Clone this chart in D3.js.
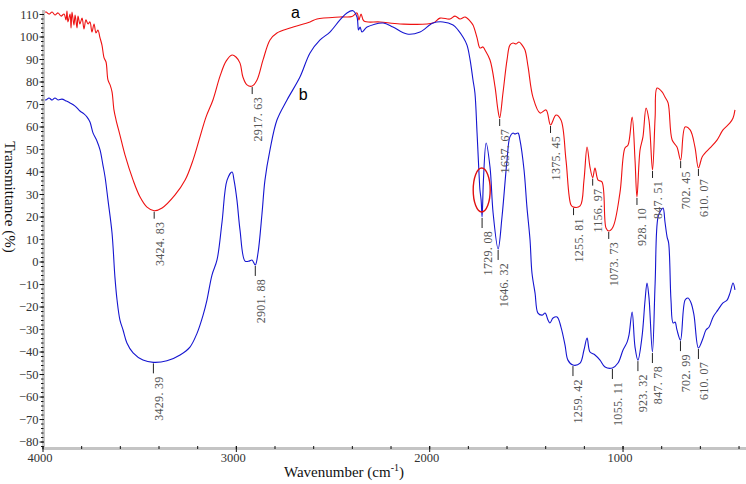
<!DOCTYPE html>
<html>
<head>
<meta charset="utf-8">
<script src="https://cdn.jsdelivr.net/npm/d3@7"></script>
<style>
html,body{margin:0;padding:0;background:#fff;}
svg{display:block;}
</style>
</head>
<body>
<svg id="chart" width="746" height="484"></svg>
<script>
// ---- data (wavenumber cm-1, transmittance %) ----
const curveA = [
[4000,110.7],[3984,111.1],[3969,110.2],[3953,111.1],[3938,109.8],[3922,110.7],[3907,109.3],[3891,110.2],
[3881,107.6],[3876,111.5],[3871,106.7],[3860,110.2],[3855,104],[3850,111.1],[3840,105.3],[3834,109.8],
[3824,104],[3819,109.3],[3809,105.8],[3798,108.4],[3788,103.6],[3778,107.6],[3767,105.8],[3757,106.7],
[3747,102.2],[3736,105.8],[3726,101.8],[3716,103.1],[3705,99.6],[3695,96.4],[3684,90.7],[3674,88.9],
[3664,80.9],[3653,78.7],[3643,75.6],[3633,67.6],[3622,63.1],[3602,56.4],[3576,47.6],[3534,36.4],
[3498,28.9],[3462,24.4],[3425,22.8],[3384,24],[3317,29.8],[3265,36.4],[3224,45.3],[3188,55.6],
[3157,64.4],[3121,72],[3084,82.7],[3053,89.3],[3022,92],[3002,91.1],[2981,88.4],[2966,82.2],
[2945,78.7],[2918,78.2],[2893,80.9],[2862,89.8],[2826,98.7],[2790,101.8],[2722,104],[2619,106.7],
[2583,108],[2464,108.9],[2402,109.1],[2376,110.7],[2366,107.6],[2355,110.2],[2340,107.1],[2257,106.7],
[2153,105.8],[1983,106.2],[1947,108.4],[1895,108],[1869,109.3],[1843,108],[1817,108.9],[1791,107.1],
[1776,105.3],[1755,99.6],[1740,95.1],[1724,95.6],[1714,94.2],[1688,89.8],[1662,77.8],[1647,67.6],
[1638,64],[1621,75.1],[1600,89.8],[1585,96.4],[1569,97.3],[1553,96.9],[1538,97.8],[1522,96.4],
[1507,94.2],[1491,86.7],[1466,73.3],[1429,66.2],[1398,67.6],[1375,60.9],[1347,65.3],[1321,63.1],
[1295,45.3],[1269,25.3],[1256,24.4],[1222,24.9],[1202,36.4],[1186,51.1],[1171,42.2],[1157,37.5],
[1145,41.8],[1129,36.4],[1109,35.6],[1088,15.1],[1074,13.8],[1052,15.6],[1016,30.7],[990,50.7],
[974,52],[953,64.4],[938,45.3],[928,28.9],[912,49.8],[897,55.6],[881,68.4],[866,63.1],
[847.5,40.9],[834,64.4],[824,77.3],[798,75.6],[783,73.3],[767,70.7],[746,54.2],[721,51.1],
[702,45.3],[679,60],[653,58.7],[628,51.1],[610,41.8],[591,46.7],[576,48.4],[550,50.7],
[514,54.2],[483,58.7],[447,61.8],[431,64],[421,67.6]
];
const curveB = [
[4000,72.4],[3984,72],[3969,72.9],[3953,72],[3938,72.9],[3922,72],[3902,72.4],[3881,71.6],
[3860,70.7],[3834,69.3],[3809,67.1],[3788,65.8],[3772,64.4],[3757,62.2],[3741,57.3],[3721,53.8],
[3705,49.8],[3690,43.1],[3679,37.8],[3664,27.6],[3643,12.9],[3628,-6.7],[3617,-16.9],[3602,-25.8],
[3586,-30.2],[3566,-36],[3534,-40.4],[3483,-43.6],[3429,-44.6],[3359,-43.9],[3291,-41.3],[3240,-37.8],
[3203,-31.6],[3172,-23.6],[3152,-16.9],[3126,-5.8],[3100,0.9],[3074,17.8],[3048,36.4],[3022,40],
[3012,36.4],[2997,27.6],[2981,14.2],[2955,0.4],[2934,0.4],[2919,0.9],[2902,-1.3],[2888,4],
[2867,21.8],[2852,36.4],[2826,49.8],[2790,63.1],[2738,72],[2671,82.2],[2619,92.9],[2567,98.7],
[2516,102.2],[2464,107.6],[2428,110.7],[2397,111.7],[2376,108.9],[2368,103.1],[2360,104.4],[2350,102.2],
[2324,104.4],[2241,106.2],[2190,104.4],[2117,101.3],[2050,102.2],[1983,106.2],[1931,106.7],[1879,105.3],
[1853,103.1],[1828,100],[1807,96.4],[1791,89.8],[1776,80.9],[1766,75.1],[1755,57.3],[1745,39.6],
[1740,32],[1734,27.6],[1729,20],[1722,36.4],[1708,52.9],[1688,42.2],[1672,21.8],[1646,5.8],
[1626,20],[1600,45.3],[1585,55.6],[1569,57.3],[1559,56.9],[1543,57.3],[1533,54.2],[1512,40.9],
[1497,24.4],[1481,9.8],[1471,-4.9],[1455,-13.8],[1440,-22.7],[1419,-23.6],[1403,-22.7],[1388,-25.8],
[1378,-27.1],[1362,-24.9],[1341,-24.4],[1321,-28.9],[1300,-36.9],[1285,-43.6],[1259,-45.8],[1222,-44.9],
[1202,-39.1],[1186,-33.8],[1171,-40],[1145,-41.3],[1119,-43.6],[1093,-46.7],[1055,-47.1],[1026,-44.9],
[1000,-39.1],[979,-35.6],[969,-32.4],[953,-22.2],[938,-37.8],[923,-43.6],[902,-33.3],[886,-16.9],
[876,-9.3],[866,-15.6],[848,-40],[834,-9.3],[819,20],[803,23.1],[793,24],[783,17.8],
[772,11.1],[764,8.4],[752,-16.9],[741,-27.1],[731,-26.7],[721,-30.2],[703,-34.7],[679,-16.9],
[664,-16],[648,-18.2],[633,-23.6],[610,-38.2],[586,-33.8],[571,-30.2],[555,-28.9],[534,-24.4],
[509,-21.3],[483,-18.2],[462,-16.9],[447,-13.8],[431,-9.3],[421,-12.4]
];
const peaksA = [
[3425,22.8,"3424. 83"],[2918,78.2,"2917. 63"],[1638,64,"1637. 67"],[1375,60.9,"1375. 45"],
[1256,24.4,"1255. 81"],[1157,37.5,"1156. 97"],[1074,13.8,"1073. 73"],[928,28.9,"928. 10"],
[847.5,40.9,"847. 51"],[702,45.3,"702. 45"],[610,41.8,"610. 07"]
];
const peaksB = [
[3429,-44.6,"3429. 39"],[2902,-1.3,"2901. 88"],[1729,20,"1729. 08"],[1646,5.8,"1646. 32"],
[1259,-45.8,"1259. 42"],[1055,-47.1,"1055. 11"],[923,-43.6,"923. 32"],[848,-40,"847. 78"],
[703,-34.7,"702. 99"],[610,-38.2,"610. 07"]
];
const seriesLabels = [["a",2694,108.3],["b",2654,72]];
const highlight = [1731,32];
const yTicks = [-80,-70,-60,-50,-40,-30,-20,-10,0,10,20,30,40,50,60,70,80,90,100,110];
const xTicks = [4000,3000,2000,1000];
const xDomain = [4000,364];
const yDomain = [-83.1,112];

// ---- drawing ----
const svg = d3.select("#chart");
const x = d3.scaleLinear().domain(xDomain).range([43,746]);
const y = d3.scaleLinear().domain(yDomain).range([449,10]);
const serif = "'Liberation Serif','Times New Roman',serif";

// curves
const line = d3.line().x(d=>x(d[0])).y(d=>y(d[1])).curve(d3.curveCatmullRom.alpha(0.5));
svg.append("path").datum(curveA).attr("d",line).attr("fill","none").attr("stroke","#ee1111").attr("stroke-width",1.1);
svg.append("path").datum(curveB).attr("d",line).attr("fill","none").attr("stroke","#1515d0").attr("stroke-width",1.1);

// left axis
svg.append("rect").attr("x",42).attr("y",y(yDomain[1])).attr("width",3).attr("height",y(yDomain[0])-y(yDomain[1])).attr("fill","#c4c4c4");
const yMinor = d3.range(-82,112,2);
svg.selectAll(".ymin").data(yMinor).enter().append("line")
  .attr("x1",41).attr("x2",43.5).attr("y1",d=>y(d)).attr("y2",d=>y(d)).attr("stroke","#111").attr("stroke-width",1);
svg.selectAll(".ymaj").data(yTicks).enter().append("line")
  .attr("x1",39.5).attr("x2",44).attr("y1",d=>y(d)).attr("y2",d=>y(d)).attr("stroke","#111").attr("stroke-width",1);
svg.selectAll(".ylab").data(yTicks).enter().append("text")
  .attr("x",38.5).attr("y",d=>y(d)).attr("dy","0.35em").attr("text-anchor","end")
  .attr("font-family",serif).attr("font-size",12.5).attr("fill","#333")
  .text(d=>d<0?"\u2212"+Math.abs(d):d);

// bottom axis
svg.append("rect").attr("x",42).attr("y",447).attr("width",704).attr("height",3).attr("fill","#c4c4c4");
const xMinor = d3.range(4000,364,-200);
svg.selectAll(".xmin").data(xMinor).enter().append("line")
  .attr("x1",d=>x(d)).attr("x2",d=>x(d)).attr("y1",446).attr("y2",449).attr("stroke","#111").attr("stroke-width",1);
svg.selectAll(".xmaj").data(xTicks).enter().append("line")
  .attr("x1",d=>x(d)).attr("x2",d=>x(d)).attr("y1",446).attr("y2",452).attr("stroke","#111").attr("stroke-width",1);
svg.selectAll(".xlab").data(xTicks).enter().append("text")
  .attr("x",d=>x(d)-3).attr("y",462).attr("text-anchor","middle")
  .attr("font-family",serif).attr("font-size",12.5).attr("fill","#333").text(d=>d);

// axis titles
const xt = svg.append("text").attr("x",344).attr("y",477).attr("text-anchor","middle")
  .attr("font-family",serif).attr("font-size",15).attr("fill","#111");
xt.append("tspan").text("Wavenumber (cm");
xt.append("tspan").attr("font-size",10).attr("dy",-6).text("-1");
xt.append("tspan").attr("dy",6).text(")");
svg.append("text").attr("transform","translate(5,197) rotate(90)").attr("text-anchor","middle")
  .attr("font-family",serif).attr("font-size",15).attr("fill","#111").text("Transmittance (%)");

// peak labels
function drawPeaks(peaks, tickLen){
  const g = svg.append("g");
  peaks.forEach(p=>{
    const px = x(p[0]), py = y(p[1]);
    g.append("line").attr("x1",px).attr("x2",px).attr("y1",py+1).attr("y2",py+1+tickLen)
      .attr("stroke","#222").attr("stroke-width",1);
    g.append("text").attr("transform",`translate(${px+5.5},${py+tickLen+4}) rotate(-90)`)
      .attr("text-anchor","end").attr("dominant-baseline","central")
      .attr("font-family",serif).attr("font-size",12).attr("letter-spacing",0.3).attr("fill","#555").text(p[2]);
  });
}
drawPeaks(peaksA, 7);
drawPeaks(peaksB, 10);

// series labels
svg.selectAll(".slab").data(seriesLabels).enter().append("text")
  .attr("x",d=>x(d[1])).attr("y",d=>y(d[2])).attr("text-anchor","middle")
  .attr("font-family","'Liberation Sans',Arial,sans-serif").attr("font-size",16).attr("fill","#000").text(d=>d[0]);

// highlight ellipse
svg.append("ellipse").attr("cx",x(highlight[0])).attr("cy",y(highlight[1])).attr("rx",8.5).attr("ry",22)
  .attr("fill","none").attr("stroke","#e01010").attr("stroke-width",1.4);
</script>
</body>
</html>
